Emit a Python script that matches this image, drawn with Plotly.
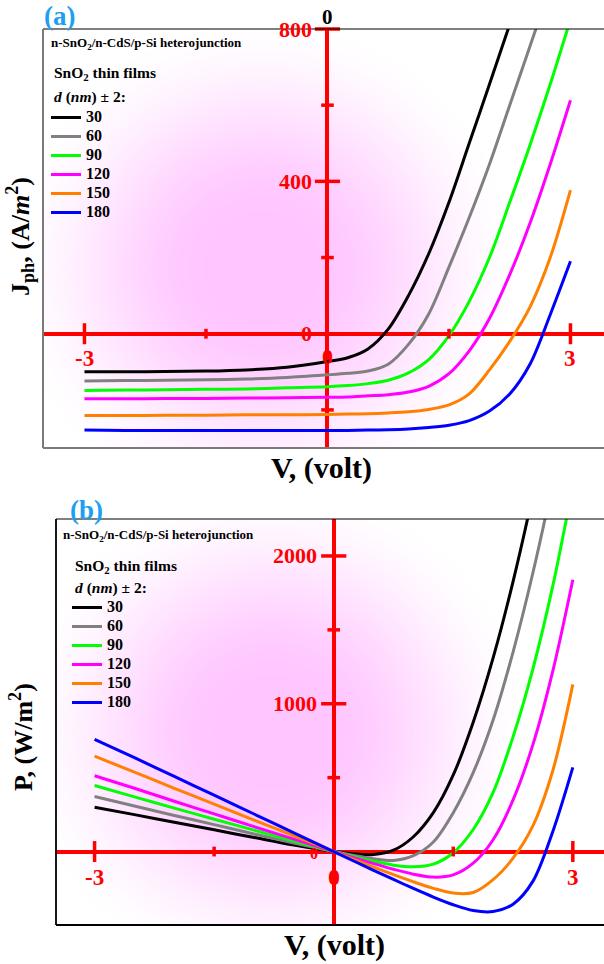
import base64
import struct
import zlib

import plotly.graph_objects as go

# ---------------------------------------------------------------- data
V = [-3, -2.5, -2, -1.5, -1, -0.5, 0, 0.25, 0.5, 0.75, 1, 1.25, 1.5, 1.75, 2,
     2.25, 2.5, 2.75, 3]

thickness = ["30", "60", "90", "120", "150", "180"]

# photocurrent density J_ph (A/m^2) for each SnO2 film thickness
J_30 = [-100, -100, -99, -98, -95, -88, -73, -63, -40, 12, 100, 210, 345, 500,
        655, 812, 968, 1125, 1280]
J_60 = [-124, -123, -122, -121, -119, -115, -108, -104, -98, -80, -28, 52, 175,
        305, 445, 600, 755, 910, 1065]
J_90 = [-149, -148, -147, -146, -145, -142, -139, -136, -131, -122, -103, -68,
        -5, 85, 200, 345, 495, 655, 825]
J_120 = [-171, -171, -170, -170, -169, -168, -167, -166, -163, -160, -153, -138,
         -105, -45, 40, 155, 290, 445, 613]
J_150 = [-215, -215, -214, -214, -213, -213, -212, -211, -210, -208, -205, -199,
         -187, -158, -95, -20, 70, 200, 377]
J_180 = [-253, -254, -254, -254, -254, -254, -254, -254, -253, -252, -250, -246,
         -240, -228, -203, -158, -80, 50, 190]

# output power density P (W/m^2)
P_30 = [300, 250, 198, 147, 95, 44, 0, -16, -20, 9, 100, 263, 518, 875, 1310,
        1827, 2420, 3094, 3840]
P_60 = [372, 308, 244, 182, 119, 58, 0, -26, -49, -60, -28, 65, 263, 534, 890,
        1350, 1888, 2503, 3195]
P_90 = [447, 370, 294, 219, 145, 71, 0, -34, -66, -92, -103, -85, -8, 149, 400,
        776, 1238, 1801, 2475]
P_120 = [513, 428, 340, 255, 169, 84, 0, -42, -82, -120, -153, -173, -158, -79,
         80, 349, 725, 1224, 1839]
P_150 = [645, 538, 428, 321, 213, 107, 0, -53, -105, -156, -205, -249, -281,
         -277, -190, -45, 175, 550, 1131]
P_180 = [759, 635, 508, 381, 254, 127, 0, -64, -127, -189, -250, -308, -360,
         -399, -406, -356, -200, 138, 570]

J_series = [J_30, J_60, J_90, J_120, J_150, J_180]
P_series = [P_30, P_60, P_90, P_120, P_150, P_180]

# axis ticks drawn on the crossing axes
x_major = [-3, 3]
x_minor = [-1.5, 1.5]
ja_major = [400, 800]
ja_minor = [-200, 200, 600]
pb_major = [1000, 2000]
pb_minor = [-500, 500, 1500]

# ---------------------------------------------------------------- style
W, H = 604, 964
SERIF = "Liberation Serif"
RED = "#ff0000"
LINE_COLORS = ["#000000", "#808080", "#00ff00", "#ff00ff", "#ff8000", "#0000ff"]
TITLE_BLUE = "#1f9ff0"

# plot-area boxes in pixels: left, top, right, bottom
BOX_A = (43, 29, 604, 448)
BOX_B = (56, 519, 604, 925)


def px(x):
    return x / W


def py(y):
    return 1 - y / H


def gradient_png(w, h, cx, cy, rx, ry, core=(255, 197, 255), inner=0.18):
    """Soft elliptical pink glow used behind each panel."""
    rows = bytearray()
    for j in range(h):
        rows.append(0)
        dy = (j + 0.5 - cy) / ry
        for i in range(w):
            dx = (i + 0.5 - cx) / rx
            r = (dx * dx + dy * dy) ** 0.5
            s = min(1.0, max(0.0, (r - inner) / (1 - inner)))
            t = 1 - s * s * (3 - 2 * s)
            rows.extend(int(round(255 + (c - 255) * t)) for c in core)

    def chunk(tag, data):
        return (struct.pack(">I", len(data)) + tag + data
                + struct.pack(">I", zlib.crc32(tag + data) & 0xFFFFFFFF))

    png = (b"\x89PNG\r\n\x1a\n"
           + chunk(b"IHDR", struct.pack(">IIBBBBB", w, h, 8, 2, 0, 0, 0))
           + chunk(b"IDAT", zlib.compress(bytes(rows), 9))
           + chunk(b"IEND", b""))
    return "data:image/png;base64," + base64.b64encode(png).decode()


fig = go.Figure()

# ---------------------------------------------------------------- curves
for name, col, J in zip(thickness, LINE_COLORS, J_series):
    fig.add_trace(go.Scatter(
        x=V, y=J, mode="lines", name=f"<span style='font-size:16px'>{name}</span>",
        line=dict(color=col, width=3, shape="spline", smoothing=0.9),
        xaxis="x", yaxis="y", legend="legend", hoverinfo="skip"))

for name, col, P in zip(thickness, LINE_COLORS, P_series):
    fig.add_trace(go.Scatter(
        x=V, y=P, mode="lines", name=f"<span style='font-size:16px'>{name}</span>",
        line=dict(color=col, width=3, shape="spline", smoothing=0.9),
        xaxis="x2", yaxis="y2", legend="legend2", hoverinfo="skip"))


# ---------------------------------------------------------------- tick marks
def tick_trace(xs, ys, symbol, size, xa, ya):
    return go.Scatter(
        x=xs, y=ys, mode="markers", showlegend=False, hoverinfo="skip",
        cliponaxis=False, xaxis=xa, yaxis=ya,
        marker=dict(symbol=symbol, size=size, color=RED,
                    line=dict(color=RED, width=3.5)))


for xa, ya, ymaj, ymin in (("x", "y", ja_major, ja_minor),
                           ("x2", "y2", pb_major, pb_minor)):
    fig.add_trace(tick_trace(x_major, [0] * len(x_major), "line-ns", 15, xa, ya))
    fig.add_trace(tick_trace(x_minor, [0] * len(x_minor), "line-ns", 7, xa, ya))
    fig.add_trace(tick_trace([0] * len(ymaj), ymaj, "line-ew", 18, xa, ya))
    fig.add_trace(tick_trace([0] * len(ymin), ymin, "line-ew", 9, xa, ya))

# ---------------------------------------------------------------- axes
axis_common = dict(showgrid=False, showline=False, showticklabels=False,
                   ticks="", zeroline=True, zerolinecolor=RED,
                   zerolinewidth=3.5, fixedrange=True)

fig.update_layout(
    width=W, height=H, autosize=False,
    margin=dict(l=0, r=0, t=0, b=0, pad=0),
    paper_bgcolor="white", plot_bgcolor="rgba(0,0,0,0)",
    xaxis=dict(domain=[px(BOX_A[0]), 1], range=[-3.512, 3.414], anchor="y",
               **axis_common),
    yaxis=dict(domain=[py(BOX_A[3]), py(BOX_A[1])], range=[-300, 800],
               anchor="x", **axis_common),
    xaxis2=dict(domain=[px(BOX_B[0]), 1], range=[-3.484, 3.391], anchor="y2",
                **axis_common),
    yaxis2=dict(domain=[py(BOX_B[3]), py(BOX_B[1])], range=[-497, 2250],
                anchor="x2", **axis_common),
    legend=dict(x=px(46), y=py(103), xanchor="left", yanchor="top",
                bgcolor="rgba(0,0,0,0)", borderwidth=0,
                font=dict(family=SERIF, size=12, color="black", weight="bold"),
                tracegroupgap=0),
    legend2=dict(x=px(67), y=py(593), xanchor="left", yanchor="top",
                 bgcolor="rgba(0,0,0,0)", borderwidth=0,
                 font=dict(family=SERIF, size=11.7, color="black", weight="bold"),
                 tracegroupgap=0),
    showlegend=True,
)

# ---------------------------------------------------------------- background glow
for box, cx, cy in ((BOX_A, 262, 268), (BOX_B, 272, 732)):
    l, t, r, b = box
    fig.add_layout_image(dict(
        source=gradient_png(r - l, b - t, cx - l, cy - t, 262, 255),
        xref="paper", yref="paper", x=px(l), y=py(t),
        sizex=(r - l) / W, sizey=(b - t) / H,
        xanchor="left", yanchor="top", sizing="stretch", layer="below"))

# ---------------------------------------------------------------- frames
frame_a = [("#000000", 1.2, BOX_A[0], BOX_A[1], W, BOX_A[1]),
           ("#7a7a7a", 2, BOX_A[0], BOX_A[1], BOX_A[0], BOX_A[3]),
           ("#7a7a7a", 2, BOX_A[0], BOX_A[3], W, BOX_A[3])]
frame_b = [("#000000", 1.2, BOX_B[0], BOX_B[1], W, BOX_B[1]),
           ("#000000", 1.8, BOX_B[0], BOX_B[1], BOX_B[0], BOX_B[3]),
           ("#000000", 1.8, BOX_B[0], BOX_B[3], W, BOX_B[3])]
for col, wdt, x0, y0, x1, y1 in frame_a + frame_b:
    fig.add_shape(type="line", xref="paper", yref="paper",
                  x0=px(x0), y0=py(y0), x1=px(x1), y1=py(y1),
                  line=dict(color=col, width=wdt), layer="above")


# ---------------------------------------------------------------- text
def bold_font(size, color="black"):
    return dict(family=SERIF, size=size, color=color, weight="bold")


def paper_text(text, x, y, size, color="black", anchor="left", angle=0):
    fig.add_annotation(text=text, xref="paper", yref="paper", x=px(x), y=py(y),
                       xanchor=anchor, yanchor="middle", showarrow=False,
                       textangle=angle, font=bold_font(size, color))


def axis_text(text, xa, ya, x, y, size, color=RED, anchor="center",
              xshift=0, yshift=0):
    fig.add_annotation(text=text, xref=xa, yref=ya, x=x, y=y, xanchor=anchor,
                       yanchor="middle", showarrow=False, xshift=xshift,
                       yshift=yshift, font=bold_font(size, color))


# panel (a) tick labels
for v in x_major:
    axis_text(f"{v}", "x", "y", v, 0, 23, yshift=-25)
for v in ja_major:
    axis_text(f"{v}", "x", "y", 0, v, 22, anchor="right", xshift=-13)
axis_text("0", "x", "y", 0, 0, 22, xshift=-21)
axis_text("0", "x", "y", 0, 0, 22, yshift=-23)
axis_text("0", "x", "y", 0, 800, 21, color="black", yshift=12)

# panel (b) tick labels
for v in x_major:
    axis_text(f"{v}", "x2", "y2", v, 0, 23, yshift=-26)
for v in pb_major:
    axis_text(f"{v}", "x2", "y2", 0, v, 22, anchor="right", xshift=-15)
axis_text("0", "x2", "y2", 0, 0, 24, yshift=-25)
axis_text("0", "x2", "y2", 0, 0, 16, xshift=-20, yshift=-2)

# panel letters
paper_text("(a)", 60, 16, 27, TITLE_BLUE, anchor="center")
paper_text("(b)", 86, 510, 27, TITLE_BLUE, anchor="center")

# axis titles
paper_text("V, (volt)", 322, 468, 30, anchor="center")
paper_text("V, (volt)", 334, 945, 30, anchor="center")
paper_text("J<sub>ph</sub>, (A/<i>m</i><sup>2</sup>)", 20, 237, 26,
           anchor="center", angle=-90)
paper_text("P, (W/m<sup>2</sup>)", 21, 737, 26, anchor="center", angle=-90)

# legend headers
for x0, y0, x1, y1, y2 in ((49, 44, 52, 74, 97), (61, 535, 73, 566, 588)):
    paper_text("n-SnO<sub>2</sub>/n-CdS/p-Si heterojunction", x0, y0, 13)
    paper_text("SnO<sub>2</sub> thin films", x1, y1, 15.5)
    paper_text("<i>d</i> (<i>nm</i>) \u00b1 2:", x1, y2, 15.5)

fig.write_html("out.html")
